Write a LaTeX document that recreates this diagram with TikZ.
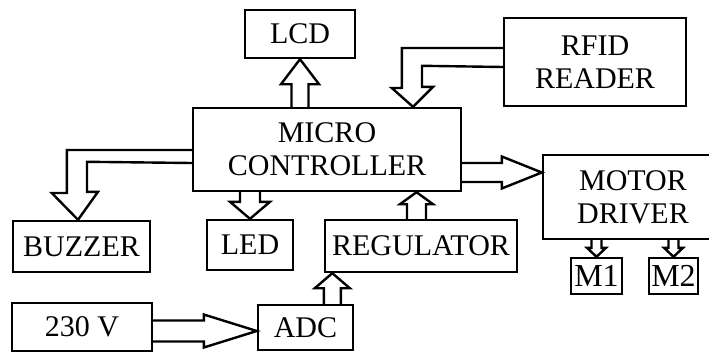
\documentclass[tikz,border=0pt]{standalone}
\usepackage{fontspec}
\setmainfont{Liberation Serif}
\usepackage{tikz}
\usetikzlibrary{calc}
% straight block arrow: tail, tip, half shaft, half head, head length
\newcommand\blockarrow[5]{%
  \coordinate (hb) at ($(#2)!#5!(#1)$);
  \draw[arr] ($(#1)!#3!90:(#2)$) -- ($(hb)!#3!90:(#2)$) -- ($(hb)!#4!90:(#2)$) -- (#2)
    -- ($(hb)!#4!-90:(#2)$) -- ($(hb)!#3!-90:(#2)$) -- ($(#1)!#3!-90:(#2)$);
}

\begin{document}
\begin{tikzpicture}[x=1pt,y=-1pt,
  box/.style={draw,line width=2.4pt,inner sep=0pt,align=center,
    font=\fontsize{30}{33}\selectfont},
  arr/.style={draw,line width=2.4pt,fill=white}]

\useasboundingbox (0,0) rectangle (709,353);

\node[box,minimum width=110,minimum height=48] (lcd) at (300,34) {LCD};
\node[box,minimum width=182,minimum height=88] (rfid) at (595,62) {RFID\\READER};
\node[box,minimum width=268,minimum height=83] (micro) at (327,149.5) {MICRO\\CONTROLLER};
\node[box,minimum width=180,minimum height=84] (motor) at (633,197) {MOTOR\\DRIVER};
\node[box,minimum width=137,minimum height=51] (buzzer) at (81.5,246.5) {BUZZER};
\node[box,minimum width=86,minimum height=50] (led) at (250,245) {LED};
\node[box,minimum width=192,minimum height=52] (reg) at (421,246) {REGULATOR};
\node[box,minimum width=51,minimum height=36,font=\fontsize{32}{34}\selectfont] (m1) at (596.5,276) {M1};
\node[box,minimum width=49,minimum height=36,font=\fontsize{32}{34}\selectfont] (m2) at (673.5,276) {M2};
\node[box,minimum width=140,minimum height=48] (v230) at (82,327) {230 V};
\node[box,minimum width=95,minimum height=45] (adc) at (305.5,327.5) {ADC};

% arrows
\blockarrow{lcd.south |- micro.north}{lcd.south}{8.5pt}{19pt}{25pt}
\path (micro.east) ++(0,23) coordinate (mt);
\blockarrow{mt}{motor.west |- mt}{9.5pt}{16pt}{40pt}
\path (reg.north) ++(-4.5,0) coordinate (rg);
\blockarrow{rg}{rg |- micro.south}{9.5pt}{16.5pt}{12pt}
\blockarrow{led.north |- micro.south}{led.north}{10pt}{20pt}{17pt}
\path (reg.south west) ++(8.5,0) coordinate (ar);
\blockarrow{ar |- adc.north}{ar}{8.5pt}{17.5pt}{15pt}
\path (v230.east) ++(0,4) coordinate (vt);
\blockarrow{vt}{adc.west |- vt}{10.5pt}{16.5pt}{53pt}
\blockarrow{m1.north |- motor.south}{m1.north}{5pt}{9.5pt}{9pt}
\blockarrow{m2.north |- motor.south}{m2.north}{5pt}{9.5pt}{9pt}

% bent arrows
\path (rfid.west) ++(0,-14) coordinate (r1) ++(0,19) coordinate (r2);
\path (micro.north) ++(86,0) coordinate (rtip);
\draw[arr] (r1) -- ++(-101,0) -- ++(0,40) -- ++(-10,0) -- (rtip)
  -- ++(20,-20) -- ++(-11,0) -- ++(0,-21) -- (r2);
\path (micro.west) ++(0,0.5) coordinate (b1) ++(0,13) coordinate (b2);
\path (buzzer.north) ++(-3.5,0) coordinate (btip);
\draw[arr] (b1) -- ++(-125,0) -- ++(0,43) -- ++(-15,0) -- (btip)
  -- ++(20,-28) -- ++(-11,0) -- ++(0,-30) -- (b2);

\end{tikzpicture}
\end{document}
